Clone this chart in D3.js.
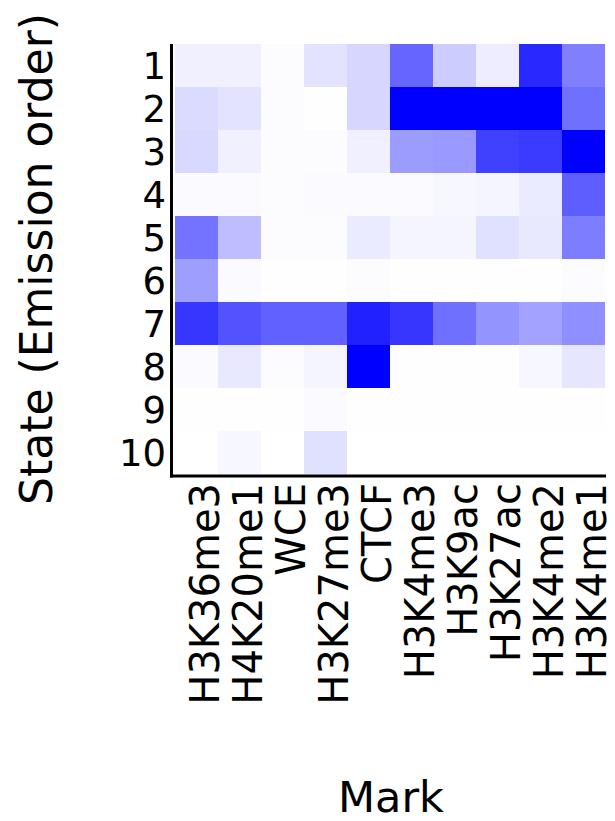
<!DOCTYPE html>
<html>
<head>
<meta charset="utf-8">
<script src="https://cdn.jsdelivr.net/npm/d3@7"></script>
<style>
  html, body { margin: 0; padding: 0; background: #fff; }
  svg { display: block; }
  text { font-family: "DejaVu Sans", sans-serif; fill: #000; }
</style>
</head>
<body>
<svg id="chart" width="615" height="821"></svg>
<script>
const marks = ["H3K36me3","H4K20me1","WCE","H3K27me3","CTCF","H3K4me3","H3K9ac","H3K27ac","H3K4me2","H3K4me1"];
const states = ["1","2","3","4","5","6","7","8","9","10"];

const state1  = [0.06, 0.06, 0.01, 0.11, 0.16, 0.60, 0.20, 0.07, 0.84, 0.50];
const state2  = [0.14, 0.11, 0.01, 0.005, 0.16, 1.00, 1.00, 1.00, 1.00, 0.56];
const state3  = [0.15, 0.06, 0.01, 0.01, 0.06, 0.39, 0.40, 0.75, 0.77, 1.00];
const state4  = [0.02, 0.02, 0.01, 0.015, 0.015, 0.015, 0.03, 0.04, 0.08, 0.63];
const state5  = [0.55, 0.26, 0.01, 0.01, 0.08, 0.04, 0.04, 0.12, 0.09, 0.51];
const state6  = [0.38, 0.02, 0.005, 0.005, 0.01, 0.005, 0.005, 0.005, 0.005, 0.01];
const state7  = [0.79, 0.68, 0.62, 0.62, 0.87, 0.79, 0.56, 0.42, 0.36, 0.44];
const state8  = [0.02, 0.09, 0.01, 0.04, 1.00, 0.005, 0.005, 0.005, 0.03, 0.10];
const state9  = [0.005, 0.005, 0.005, 0.015, 0.005, 0.005, 0.005, 0.005, 0.005, 0.005];
const state10 = [0.00, 0.03, 0.00, 0.12, 0.00, 0.00, 0.00, 0.00, 0.00, 0.00];
const emissions = [state1, state2, state3, state4, state5, state6, state7, state8, state9, state10];

const cells = [];
emissions.forEach((row, i) => row.forEach((v, j) => cells.push({state: states[i], mark: marks[j], value: v})));

const svg = d3.select("#chart");
const plot = {left: 175, right: 605, top: 44, bottom: 474};

const x = d3.scaleBand().domain(marks).range([plot.left, plot.right]).padding(0);
const y = d3.scaleBand().domain(states).range([plot.top, plot.bottom]).padding(0);
const color = d3.scaleLinear().domain([0, 1]).range(["#ffffff", "#0000ff"]);

svg.append("g").selectAll("rect").data(cells).join("rect")
  .attr("x", d => x(d.mark))
  .attr("y", d => y(d.state))
  .attr("width", x.bandwidth())
  .attr("height", y.bandwidth())
  .attr("fill", d => color(d.value));

// axes lines
svg.append("line").attr("x1", 171.5).attr("x2", 171.5).attr("y1", 44).attr("y2", 477.5)
  .attr("stroke", "#000").attr("stroke-width", 3);
svg.append("line").attr("x1", 170).attr("x2", 606).attr("y1", 476).attr("y2", 476)
  .attr("stroke", "#000").attr("stroke-width", 3);

// y tick labels
svg.append("g").selectAll("text").data(states).join("text")
  .attr("x", 166)
  .attr("y", d => y(d) + y.bandwidth() / 2)
  .attr("dy", "0.37em")
  .attr("text-anchor", "end")
  .attr("font-size", 37)
  .text(d => d);

// x tick labels
svg.append("g").selectAll("text").data(marks).join("text")
  .attr("transform", d => `translate(${x(d) + x.bandwidth() / 2 + 22},483) rotate(-90)`)
  .attr("text-anchor", "end")
  .attr("font-size", 40)
  .text(d => d);

// axis titles
svg.append("text")
  .attr("transform", "translate(52,259) rotate(-90)")
  .attr("text-anchor", "middle")
  .attr("font-size", 44)
  .text("State (Emission order)");

svg.append("text")
  .attr("x", 391)
  .attr("y", 812)
  .attr("text-anchor", "middle")
  .attr("font-size", 43)
  .text("Mark");
</script>
</body>
</html>
